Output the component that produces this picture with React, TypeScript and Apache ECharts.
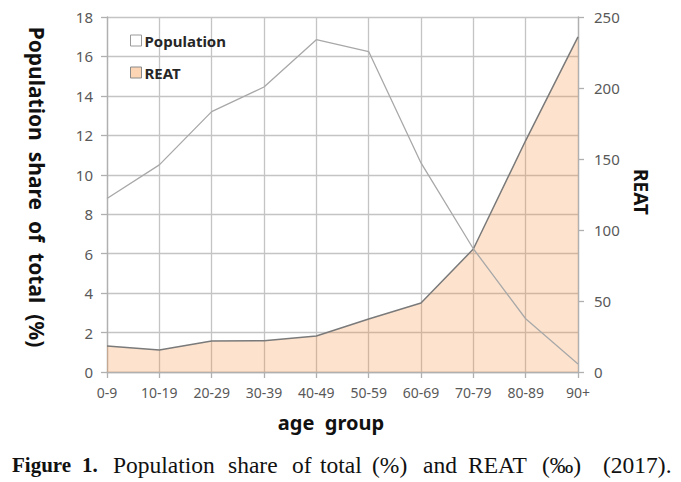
import React, { useEffect, useRef } from "react";
import * as echarts from "echarts";

const categories = ["0-9", "10-19", "20-29", "30-39", "40-49", "50-59", "60-69", "70-79", "80-89", "90+"];
const populationShare = [8.8, 10.5, 13.2, 14.45, 16.85, 16.25, 10.6, 6.25, 2.7, 0.4];
const reatValues = [18.3, 15.5, 21.8, 22, 25.3, 37.3, 48.6, 86.6, 163, 236];
const leftTicks = { min: 0, max: 18, interval: 2 };
const rightTicks = { min: 0, max: 250, interval: 50 };
const captionWords = [
  { text: "Figure", bold: true, x: 12 },
  { text: "1.", bold: true, x: 82 },
  { text: "Population", bold: false, x: 113 },
  { text: "share", bold: false, x: 228 },
  { text: "of", bold: false, x: 292 },
  { text: "total", bold: false, x: 320 },
  { text: "(%)", bold: false, x: 372 },
  { text: "and", bold: false, x: 423 },
  { text: "REAT", bold: false, x: 468 },
  { text: "(‰)", bold: false, x: 542 },
  { text: "(2017).", bold: false, x: 603 },
];

const GRID = "#c4c4c4";
const LABEL = "#595959";
const SANS = "'Noto Sans', 'Open Sans', sans-serif";

export default function App() {
  const ref = useRef<HTMLDivElement>(null);
  useEffect(() => {
    if (!ref.current) return;
    const chart = echarts.init(ref.current, undefined, { renderer: "svg" });
    const axisCommon = {
      axisLine: { show: true, lineStyle: { color: "#b0b0b0", width: 1.3 } },
      axisTick: { show: true, length: 6, lineStyle: { color: "#b0b0b0", width: 1.3 } },
      splitLine: { show: true, lineStyle: { color: GRID, width: 1.3 } },
    };
    chart.setOption({
      animation: false,
      backgroundColor: "#ffffff",
      grid: { left: 107, right: 103, top: 17, bottom: 110, containLabel: false },
      legend: {
        orient: "vertical",
        left: 125,
        top: 28,
        itemWidth: 11,
        itemHeight: 11,
        itemGap: 17,
        icon: "rect",
        textStyle: { fontFamily: SANS, fontSize: 15, fontWeight: "bold", color: "#262626", padding: [0, 0, 0, -2] },
        data: [
          { name: "Population", itemStyle: { color: "#ffffff", borderColor: "#9a9a9a", borderWidth: 1 } },
          { name: "REAT", itemStyle: { color: "#fbd5b4", borderColor: "#8a8a8a", borderWidth: 1 } },
        ],
      },
      xAxis: {
        type: "category",
        data: categories,
        boundaryGap: false,
        ...axisCommon,
        axisLabel: { color: LABEL, fontFamily: SANS, fontSize: 14, margin: 13 },
      },
      yAxis: [
        {
          type: "value",
          position: "left",
          ...leftTicks,
          ...axisCommon,
          axisLabel: { color: LABEL, fontFamily: SANS, fontSize: 15, margin: 14 },
        },
        {
          type: "value",
          position: "right",
          ...rightTicks,
          ...axisCommon,
          splitLine: { show: false },
          axisLabel: { color: LABEL, fontFamily: SANS, fontSize: 15, margin: 16 },
        },
      ],
      series: [
        {
          name: "REAT",
          type: "line",
          yAxisIndex: 1,
          data: reatValues,
          symbol: "none",
          lineStyle: { color: "#7a7a7a", width: 1.5 },
          itemStyle: { color: "#fbd5b4" },
          areaStyle: { color: "rgba(247,150,70,0.38)" },
          z: 2,
        },
        {
          name: "Population",
          type: "line",
          yAxisIndex: 0,
          data: populationShare,
          symbol: "none",
          lineStyle: { color: "#a8a8a8", width: 1.3 },
          itemStyle: { color: "#a8a8a8" },
          z: 3,
        },
      ],
      graphic: [
        {
          type: "text",
          x: 37,
          y: 187,
          rotation: -Math.PI / 2,
          style: {
            text: "Population  share  of  total  (%)",
            font: `bold 21px ${SANS}`,
            fill: "#111111",
            textAlign: "center",
            textVerticalAlign: "middle",
          },
        },
        {
          type: "text",
          x: 641,
          y: 192,
          rotation: -Math.PI / 2,
          style: {
            text: "REAT",
            font: `bold 19px ${SANS}`,
            fill: "#111111",
            textAlign: "center",
            textVerticalAlign: "middle",
          },
        },
        {
          type: "text",
          x: 331,
          y: 422,
          style: {
            text: "age  group",
            font: `bold 20px ${SANS}`,
            fill: "#111111",
            textAlign: "center",
            textVerticalAlign: "middle",
          },
        },
        ...captionWords.map((w) => ({
          type: "text",
          x: w.x,
          y: 465,
          style: {
            text: w.text,
            font: `${w.bold ? "bold 21px" : "23.5px"} 'Liberation Serif', 'Times New Roman', serif`,
            fill: "#111111",
            textAlign: "left",
            textVerticalAlign: "middle",
          },
        })),
      ],
    });
    return () => chart.dispose();
  }, []);
  return (
    <div
      ref={ref}
      style={{ position: "absolute", left: 0, top: 0, width: 681, height: 482 }}
    />
  );
}
